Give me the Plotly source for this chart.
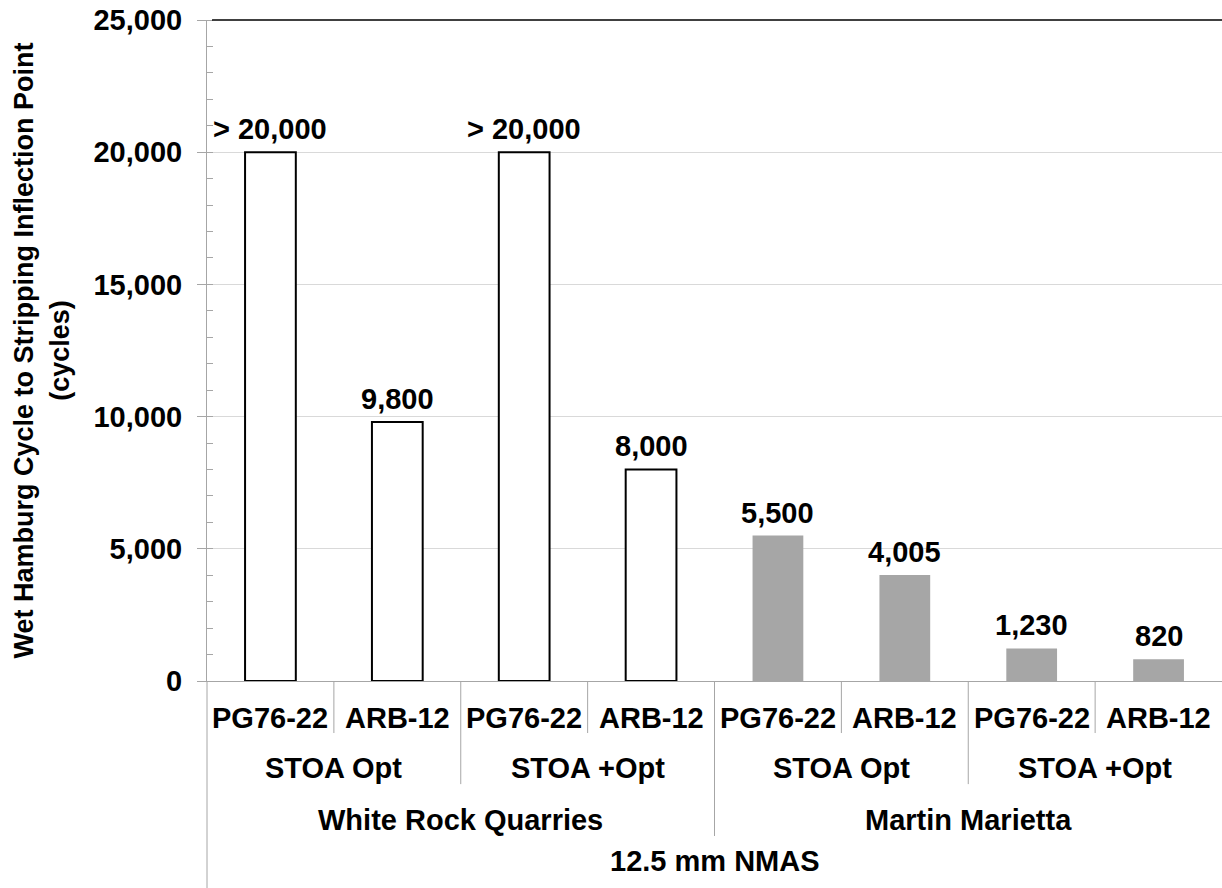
import plotly.graph_objects as go

# Chart data
quarries = ["White Rock Quarries"] * 4 + ["Martin Marietta"] * 4
stoa = ["STOA Opt", "STOA Opt", "STOA +Opt", "STOA +Opt"] * 2
binders = ["PG76-22", "ARB-12"] * 4
cycles = [20000, 9800, 20000, 8000, 5500, 4005, 1230, 820]
value_labels = ["> 20,000", "9,800", "> 20,000", "8,000", "5,500", "4,005", "1,230", "820"]
nmas = "12.5 mm NMAS"
y_ticks = [0, 5000, 10000, 15000, 20000, 25000]

FONT = "Liberation Sans, Arial, sans-serif"
AXIS_GRAY = "#A6A6A6"
fill_by_quarry = {"White Rock Quarries": "white", "Martin Marietta": "#A6A6A6"}
edge_by_quarry = {"White Rock Quarries": 2, "Martin Marietta": 0}

x_pos = list(range(len(cycles)))

fig = go.Figure(go.Bar(
    x=x_pos,
    y=cycles,
    width=0.4,
    marker=dict(
        color=[fill_by_quarry[q] for q in quarries],
        line=dict(color="black", width=[edge_by_quarry[q] for q in quarries]),
    ),
    hoverinfo="skip",
))


def spans(keys):
    # group consecutive equal keys -> (label, first index, last index)
    out = []
    start = 0
    for i in range(1, len(keys) + 1):
        if i == len(keys) or keys[i] != keys[start]:
            out.append((keys[start][-1], start, i - 1))
            start = i
    return out


label_font = dict(family=FONT, size=29, color="black", weight="bold")
annotations = []

# value labels above the bars
for xi, yi, txt in zip(x_pos, cycles, value_labels):
    annotations.append(dict(
        x=xi, y=yi, xref="x", yref="y", text=txt, showarrow=False,
        xanchor="center", yanchor="bottom", yshift=5, font=label_font,
    ))

level_rows = [
    ([(b,) for b in binders], -0.056),
    ([(q, s) for q, s in zip(quarries, stoa)], -0.132),
    ([(q,) for q in quarries], -0.210),
    ([(nmas,)] * len(binders), -0.273),
]
for keys, ypos in level_rows:
    for text, a, b in spans(keys):
        annotations.append(dict(
            x=(a + b) / 2, y=ypos, xref="x", yref="paper", text=text,
            showarrow=False, xanchor="center", yanchor="middle", font=label_font,
        ))

annotations.append(dict(
    x=-0.1626, y=0.5, xref="paper", yref="paper", textangle=-90,
    text="Wet Hamburg Cycle to Stripping Inflection Point<br>(cycles)",
    showarrow=False, xanchor="center", yanchor="middle",
    font=dict(family=FONT, size=27, color="black", weight="bold"),
))

# divider lines between category groups
shapes = []
for i in range(len(binders) - 1):
    if quarries[i] != quarries[i + 1]:
        depth = -0.2345
    elif stoa[i] != stoa[i + 1]:
        depth = -0.156
    else:
        depth = -0.0787
    shapes.append(dict(type="line", xref="x", yref="paper", x0=i + 0.5, x1=i + 0.5,
                       y0=0, y1=depth, line=dict(color=AXIS_GRAY, width=1)))

# axis line running down through the label rows
shapes.append(dict(type="line", xref="paper", yref="paper", x0=0, x1=0, y0=0, y1=-0.33,
                   line=dict(color=AXIS_GRAY, width=1)))
# top border line
shapes.append(dict(type="line", xref="paper", yref="paper", x0=0.005, x1=1, y0=1, y1=1,
                   line=dict(color="black", width=1.5)))

fig.update_layout(
    width=1222,
    height=888,
    margin=dict(l=207, r=0, t=20, b=207),
    paper_bgcolor="white",
    plot_bgcolor="white",
    showlegend=False,
    annotations=annotations,
    shapes=shapes,
    xaxis=dict(
        range=[-0.5, len(binders) - 0.5],
        showticklabels=False,
        ticks="",
        showgrid=False,
        zeroline=False,
        showline=True,
        linecolor=AXIS_GRAY,
        linewidth=1,
        automargin=False,
        fixedrange=True,
    ),
    yaxis=dict(
        range=[0, 25000],
        tickvals=y_ticks,
        tickformat=",",
        tickfont=dict(family=FONT, size=29, color="black", weight="bold"),
        ticklabeloverflow="allow",
        ticks="outside",
        ticklen=9,
        tickcolor=AXIS_GRAY,
        ticklabelstandoff=9,
        minor=dict(ticks="inside", ticklen=6, dtick=1000, tickcolor=AXIS_GRAY, showgrid=False),
        showgrid=True,
        gridcolor="#D9D9D9",
        gridwidth=1,
        zeroline=False,
        showline=True,
        linecolor=AXIS_GRAY,
        linewidth=1,
        automargin=False,
        fixedrange=True,
    ),
)

# drop the browser's default 8px body margin so the figure fills the window
fig.write_html(
    "out.html",
    config={"displayModeBar": False},
    post_script="document.body.style.margin = '0';",
)
